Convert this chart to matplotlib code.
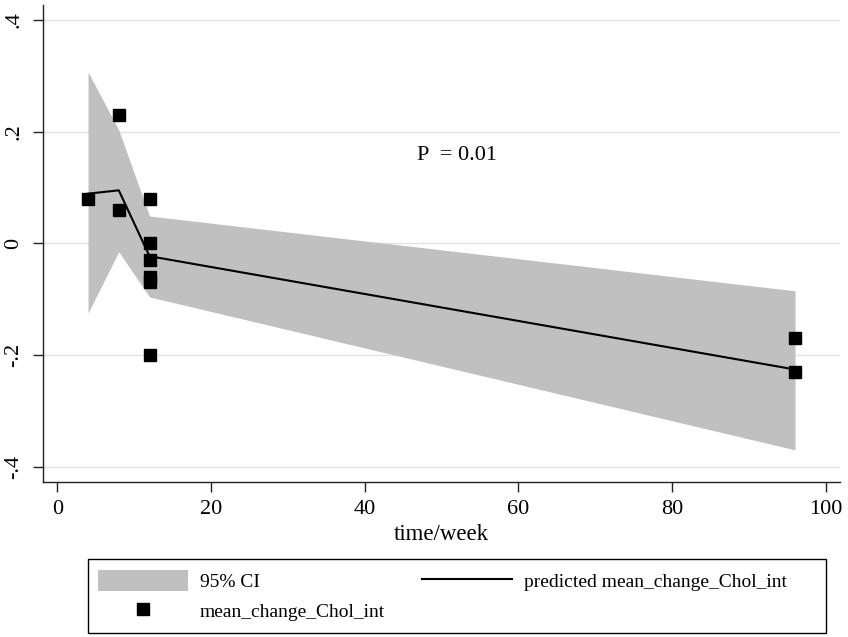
import matplotlib
matplotlib.use('Agg')
import matplotlib.pyplot as plt
from matplotlib.patches import Rectangle

# observed study means
weeks = [4, 8, 8, 12, 12, 12, 12, 12, 12, 96, 96]
mean_change = [0.08, 0.23, 0.06, 0.08, 0.0, -0.03, -0.06, -0.07, -0.20, -0.17, -0.23]

# fitted curve and 95% band
fit_weeks = [4, 8, 12, 96]
fit_pred = [0.089, 0.095, -0.023, -0.226]
ci_low = [-0.125, -0.015, -0.096, -0.370]
ci_high = [0.307, 0.203, 0.049, -0.085]

xticks = [0, 20, 40, 60, 80, 100]
yticks = [-0.4, -0.2, 0, 0.2, 0.4]
ytick_labels = ['-.4', '-.2', '0', '.2', '.4']

plt.rcParams['font.family'] = ['Liberation Serif', 'DejaVu Serif']

fig = plt.figure(figsize=(8.48, 6.37), dpi=100)
ax = fig.add_axes([42.7/848, 155.3/637, (840-42.7)/848, (632-155.3)/637])

band = ax.fill_between(fit_weeks, ci_low, ci_high, color='#c0c0c0', lw=0, label='95% CI')
line, = ax.plot(fit_weeks, fit_pred, color='black', lw=1.5, label='predicted mean_change_Chol_int')
pts, = ax.plot(weeks, mean_change, ls='none', marker='s', ms=9, color='black',
               label='mean_change_Chol_int')

ax.set_xlim(-1.9, 101.85)
ax.set_ylim(-0.427, 0.427)
ax.set_xticks(xticks)
ax.set_yticks(yticks)
ax.set_yticklabels(ytick_labels)
ax.yaxis.grid(True, color='#e3e3e3', lw=1.0)
ax.set_axisbelow(True)
for s in ['top', 'right']:
  ax.spines[s].set_visible(False)
for s in ['left', 'bottom']:
  ax.spines[s].set_color('#222222')
  ax.spines[s].set_linewidth(1.0)
ax.tick_params(axis='both', direction='out', length=7, width=1.0, color='#222222',
               labelsize=16, pad=6)
ax.tick_params(axis='y', labelrotation=90, pad=7)
for t in ax.get_yticklabels():
  t.set_va('center')
ax.set_xlabel('time/week', fontsize=16.5, labelpad=4)

ax.text(52, 0.158, 'P  = 0.01', fontsize=16, ha='center', va='center')

# legend box below the plot
fig.patches.append(Rectangle((88.3/848, 4.3/637), (826-88.3)/848, 73.7/637,
                             transform=fig.transFigure, fill=False, ec='black', lw=1.0))
fig.legend([band, pts, line],
           ['95% CI', 'mean_change_Chol_int', 'predicted mean_change_Chol_int'],
           loc='upper left', bbox_to_anchor=(98.3/848, (637-570)/637), ncol=2,
           frameon=False, borderpad=0, borderaxespad=0, fontsize=14,
           handlelength=4.63, handleheight=1.3, handletextpad=0.6,
           columnspacing=1.9, labelspacing=0.45, numpoints=1)

plt.savefig('out.png', dpi=100)
